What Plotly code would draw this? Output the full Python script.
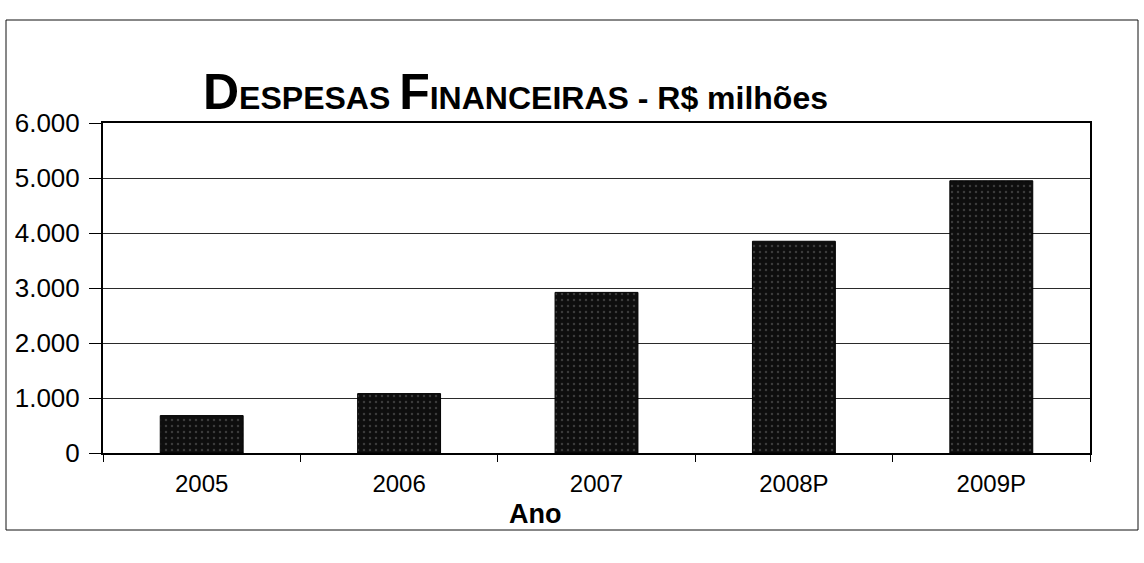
import plotly.graph_objects as go

# Despesas financeiras por ano (R$ milhões)
anos = ["2005", "2006", "2007", "2008P", "2009P"]
despesas = [680, 1080, 2920, 3850, 4950]
y_ticks = [0, 1000, 2000, 3000, 4000, 5000, 6000]

W, H = 1144, 563
L, R, T, B = 103, 54, 123, 110
pw, ph = W - L - R, H - T - B


def px_x(p):
    return (p - L) / pw


def px_y(p):
    return (H - B - p) / ph


fig = go.Figure(
    go.Bar(
        x=anos,
        y=despesas,
        width=0.42,
        marker=dict(
            color="#0e0e0e",
            line=dict(color="#000000", width=1),
            pattern=dict(shape=".", fgcolor="#6a6a6a", bgcolor="#0e0e0e",
                         size=6, solidity=0.12),
        ),
        hoverinfo="x+y",
    )
)

fig.update_layout(
    width=W,
    height=H,
    margin=dict(l=L, r=R, t=T, b=B),
    paper_bgcolor="white",
    plot_bgcolor="white",
    separators=",.",
    showlegend=False,
    font=dict(family="Liberation Sans, Arial, sans-serif", color="#000000"),
)

fig.update_xaxes(
    type="category",
    showline=True,
    linecolor="#000000",
    linewidth=2,
    mirror=True,
    ticks="outside",
    tickson="boundaries",
    ticklen=7,
    tickcolor="#000000",
    tickfont=dict(size=24),
    ticklabelstandoff=8,
    showgrid=False,
)

fig.update_yaxes(
    range=[0, 6000],
    tickvals=y_ticks,
    tickformat=",.0f",
    showline=True,
    linecolor="#000000",
    linewidth=2,
    mirror=True,
    ticks="outside",
    ticklen=12,
    tickcolor="#000000",
    tickfont=dict(size=26),
    ticklabelstandoff=4,
    showgrid=True,
    gridcolor="#2a2a2a",
    gridwidth=1,
    zeroline=False,
)

# Título com versaletes: iniciais maiores
title_html = (
    "<b><span style='font-size:50px'>D</span>ESPESAS "
    "<span style='font-size:50px'>F</span>INANCEIRAS - R$ milhões</b>"
)
fig.add_annotation(
    text=title_html,
    xref="paper", yref="paper",
    x=px_x(515), y=px_y(92),
    xanchor="center", yanchor="middle",
    showarrow=False,
    font=dict(size=32, color="#000000"),
)

# Rótulo do eixo horizontal
fig.add_annotation(
    text="<b>Ano</b>",
    xref="paper", yref="paper",
    x=px_x(535), y=px_y(514),
    xanchor="center", yanchor="middle",
    showarrow=False,
    font=dict(size=27, color="#000000"),
)

# Moldura externa do gráfico
fig.add_shape(
    type="rect",
    xref="paper", yref="paper",
    x0=px_x(6), x1=px_x(1138),
    y0=px_y(530), y1=px_y(20),
    line=dict(color="#111111", width=1),
    layer="below",
)

fig.write_html("out.html")
